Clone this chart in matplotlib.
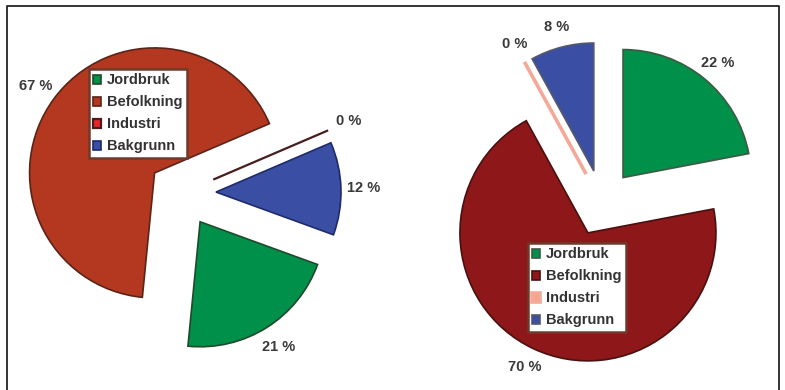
import matplotlib.pyplot as plt

categories = ['Jordbruk', 'Befolkning', 'Industri', 'Bakgrunn']
share_left = [21, 67, 0, 12]
share_right = [22, 70, 0, 8]

colors_left = ['#00904a', '#b4381f', '#e8242a', '#3a4ea3']
edges_left = ['#1f4a2c', '#5a2418', '#4a1c1c', '#1e2a6a']
colors_right = ['#00904a', '#8e1719', '#f4a48a', '#3a4ea3']
edges_right = ['#3c5a44', '#4a1010', '#f5a898', '#55586a']

plt.rcParams['font.family'] = ['Liberation Sans', 'DejaVu Sans']

W, H = 785, 390
fig = plt.figure(figsize=(W / 100, H / 100), dpi=100)
ax = fig.add_axes([0, 0, 1, 1])


def draw_pie(values, colors, edges, center, radius, start, gap, pct_r, lw_zero):
    # pie's explode offset is in data units, here pixels
    wedges, texts, autotexts = ax.pie(
        values, colors=colors, explode=[gap] * len(values),
        startangle=start, counterclock=False, center=center, radius=radius,
        autopct=lambda p: f'{p:.0f} %', pctdistance=pct_r, frame=True,
        textprops=dict(fontsize=10.5, fontweight='bold', color='#3a3a3a'),
        wedgeprops=dict(linewidth=1.2))
    for w, ec, v in zip(wedges, edges, values):
        w.set_edgecolor(ec)
        if v == 0:
            w.set_linewidth(lw_zero)
    return wedges


wl = draw_pie(share_left, colors_left, edges_left, (182, H - 193), 125, 340, 34, 1.18, 1.6)
wr = draw_pie(share_right, colors_right, edges_right, (602, H - 203), 128, 90, 33, 1.16, 2.6)

for wedges, (lx, ly) in [(wl, (89, 69)), (wr, (528, 243))]:
    leg = fig.legend(wedges, categories, loc='upper left',
                     bbox_to_anchor=(lx / W, 1 - ly / H), bbox_transform=fig.transFigure,
                     borderaxespad=0, fancybox=False, framealpha=1,
                     edgecolor='#6e3a2c', handlelength=0.55, handleheight=0.55,
                     handletextpad=0.4, labelspacing=0.55, borderpad=0.3,
                     prop=dict(size=10.5, weight='bold'), labelcolor='#333333')
    leg.get_frame().set_linewidth(1.8)

# outer frame, open at the bottom edge
ax.plot([7, 7, 779, 779], [-5, H - 6, H - 6, -5], color='#222222', lw=1.3)

ax.set_xlim(0, W)
ax.set_ylim(0, H)
ax.set_aspect('equal')
ax.axis('off')

fig.savefig('out.png', dpi=100)
